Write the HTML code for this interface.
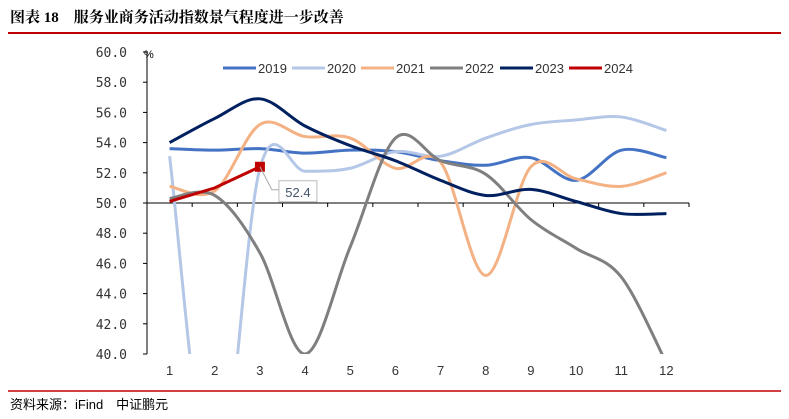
<!DOCTYPE html>
<html><head><meta charset="utf-8"><style>
html,body{margin:0;background:#fff;width:789px;height:419px;overflow:hidden;font-family:"Liberation Sans","Noto Sans CJK SC",sans-serif}
svg{display:block}
</style></head><body>
<svg width="789" height="419" xmlns="http://www.w3.org/2000/svg">
<text x="10" y="22" font-size="15" font-weight="bold" font-family="'Liberation Serif','Noto Serif CJK SC',serif">图表 18　服务业商务活动指数景气程度进一步改善</text>
<line x1="8" y1="33" x2="781" y2="33" stroke="#C00000" stroke-width="2"/>
<line x1="8" y1="391" x2="781" y2="391" stroke="#C00000" stroke-width="1.5"/>
<text x="10" y="409" font-size="13">资料来源：iFind　中证鹏元</text>
<g id="axes"></g>
<g id="series"></g>
<g id="legend"></g>
</svg>
<script>
const months=[1,2,3,4,5,6,7,8,9,10,11,12];
const yTicks=[40,42,44,46,48,50,52,54,56,58,60];
const s2019=[53.6,53.5,53.6,53.3,53.5,53.4,52.8,52.5,53.0,51.5,53.5,53.0];
const s2020=[53.1,30.1,52.3,52.1,52.3,53.4,53.1,54.3,55.2,55.5,55.7,54.8];
const s2021=[51.1,50.8,55.2,54.4,54.3,52.3,52.7,45.2,52.4,51.6,51.1,52.0];
const s2022=[50.3,50.5,46.7,40.0,47.1,54.3,52.8,51.9,48.9,47.0,45.1,39.4];
const s2023=[54.0,55.6,56.9,55.1,53.8,52.8,51.5,50.5,50.9,50.1,49.3,49.3];
const s2024=[50.1,51.0,52.4];
const seriesNames=["2019","2020","2021","2022","2023","2024"];
const NS="http://www.w3.org/2000/svg";
const L=147,R=689,T=52,B=354,ymin=40,ymax=60;
const step=(R-L)/12;
const x=i=>L+step*(i+0.5);
const y=v=>B-(v-ymin)/(ymax-ymin)*(B-T);
function mk(t,a,p){const e=document.createElementNS(NS,t);for(const k in a)e.setAttribute(k,a[k]);(p||document.querySelector('svg')).appendChild(e);return e;}
const ax=document.getElementById('axes');
const defs=mk('defs',{});const cp=mk('clipPath',{id:'cp'},defs);mk('rect',{x:L,y:T-5,width:R-L+5,height:B-T+5},cp);
let e=mk('line',{x1:L,y1:T,x2:L,y2:B,stroke:'#000','stroke-width':1},ax);

yTicks.forEach(v=>{const t=mk('text',{x:L-20,y:y(v)+5,'font-size':13,'text-anchor':'end',fill:'#333','font-family':"'DejaVu Sans Mono',monospace"},ax);t.textContent=v.toFixed(1);

mk('line',{x1:L-4,y1:y(v),x2:L,y2:y(v),stroke:'#000'},ax);});
const pct=mk('text',{x:L-3,y:T+6,'font-size':11},ax);pct.textContent='%';

e=mk('line',{x1:L,y1:y(50),x2:R,y2:y(50),stroke:'#000'},ax);

for(let i=0;i<=12;i++)mk('line',{x1:L+step*i,y1:y(50),x2:L+step*i,y2:y(50)+4,stroke:'#000'},ax);
months.forEach((m,i)=>{const t=mk('text',{x:x(i),y:375,'font-size':13,'text-anchor':'middle',fill:'#333'},ax);t.textContent=m;
});
function smooth(d){let p=d.map((v,i)=>[x(i),y(v)]);let s=`M${p[0][0]},${p[0][1]}`;
for(let i=0;i<p.length-1;i++){const p0=p[i-1]||p[i],p1=p[i],p2=p[i+1],p3=p[i+2]||p2;const k=1/6;
s+=` C${p1[0]+(p2[0]-p0[0])*k},${p1[1]+(p2[1]-p0[1])*k} ${p2[0]-(p3[0]-p1[0])*k},${p2[1]-(p3[1]-p1[1])*k} ${p2[0]},${p2[1]}`;}return s;}
const sg=document.getElementById('series');
const cols=['#4472C4','#B4C7E7','#F4B183','#7F7F7F','#002060','#C00000'];
const data=[s2019,s2020,s2021,s2022,s2023];
data.forEach((d,k)=>{const p=mk('path',{d:smooth(d),fill:'none',stroke:cols[k],'stroke-width':3,'clip-path':'url(#cp)'},sg);
});
const pts=s2024.map((v,i)=>x(i)+','+y(v)).join(' ');
e=mk('polyline',{points:pts,fill:'none',stroke:cols[5],'stroke-width':3},sg);

const li=s2024.length-1,lx=x(li),ly=y(s2024[li]);
e=mk('rect',{x:lx-5,y:ly-5,width:10,height:10,fill:cols[5]},sg);

mk('polyline',{points:`${lx},${ly} ${lx+12},${ly+23} ${lx+19},${ly+23}`,fill:'none',stroke:'#aaa'},sg);
e=mk('rect',{x:lx+19,y:ly+14,width:38,height:21,fill:'#fff',stroke:'#bbb'},sg);

const tl=mk('text',{x:lx+38,y:ly+30,'font-size':13,'text-anchor':'middle',fill:'#44546A'},sg);tl.textContent=s2024[li].toFixed(1);

const lg=document.getElementById('legend');
const lx0=[223,292,361,430,500,569];
seriesNames.forEach((n,k)=>{const g=mk('g',{},lg);
mk('line',{x1:lx0[k],y1:68,x2:lx0[k]+33,y2:68,stroke:cols[k],'stroke-width':3},g);
const t=mk('text',{x:lx0[k]+35,y:73,'font-size':13,fill:'#333'},g);t.textContent=n;});
</script>
</body></html>
